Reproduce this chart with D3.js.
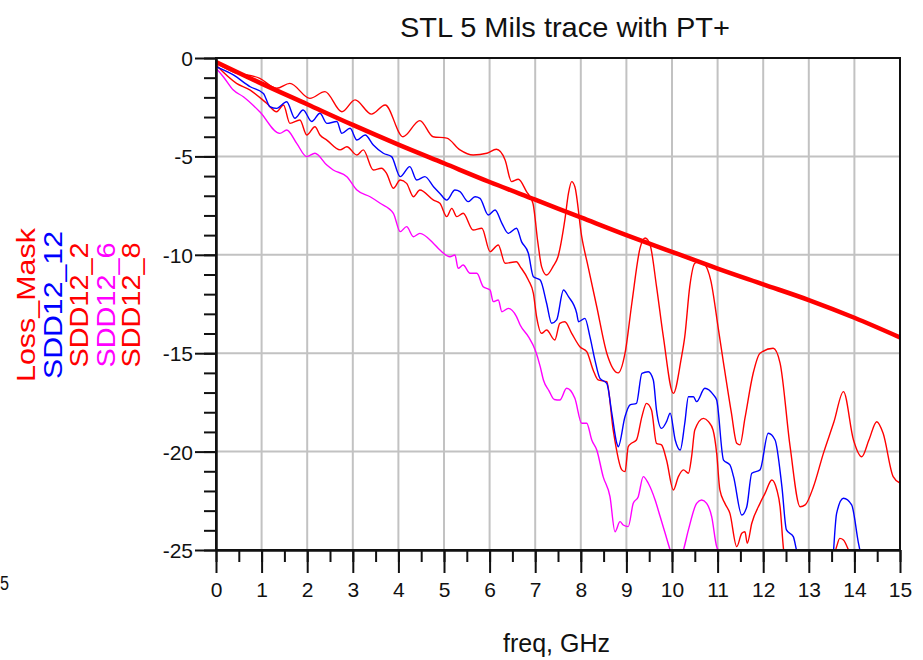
<!DOCTYPE html>
<html><head><meta charset="utf-8">
<script src="https://cdn.jsdelivr.net/npm/d3@7"></script>
<style>
html,body{margin:0;padding:0;background:#fff;}
svg{display:block;font-family:"Liberation Sans",Arial,sans-serif;}
</style></head>
<body>
<svg id="chart" width="923" height="660"></svg>
<script>
// ---------- DATA ----------
const titleText = "STL 5 Mils trace with PT+";
const xLabelText = "freq, GHz";
const xTicks = [0,1,2,3,4,5,6,7,8,9,10,11,12,13,14,15];
const yTicks = [0,-5,-10,-15,-20,-25];

const legendNames = ["Loss_Mask","SDD12_12","SDD12_2","SDD12_6","SDD12_8"];
const legendColors = ["#ff0000","#0000ff","#ff0000","#ff00ff","#ff0000"];

const maskFreq = [0,1,2,3,4,5,6,7,8,9,10,11,12,13,14,15];
const lossMask = [-0.2,-1.3,-2.35,-3.4,-4.4,-5.35,-6.3,-7.2,-8.1,-9.0,-9.85,-10.7,-11.5,-12.3,-13.2,-14.2];

const freq2 = [0,0.37,0.96,1.33,1.62,2.06,2.39,2.76,3.05,3.41,3.71,4.1,4.47,4.76,5.06,5.35,5.64,5.94,6.15,6.34,6.48,6.63,6.81,6.95,7.06,7.14,7.25,7.39,7.5,7.65,7.73,7.8,7.87,8.02,8.16,8.35,8.57,8.82,8.97,9.12,9.3,9.41,9.52,9.66,9.81,10.03,10.2,10.28,10.39,10.5,10.6,10.72,10.85,11.02,11.13,11.3,11.42,11.49,11.6,11.78,11.93,12.22,12.37,12.59,12.81,12.92,13.1,13.32,13.55,13.76,13.98,14.16,14.32,14.49,14.63,14.85,15];
const sdd12_2 = [-0.25,-0.7,-1.03,-1.54,-1.29,-2.05,-1.71,-2.73,-2.13,-2.85,-2.39,-4.0,-3.18,-4.0,-4.07,-4.67,-4.93,-4.84,-4.64,-5.18,-6.28,-6.16,-6.79,-7.38,-9.41,-10.6,-11.03,-10.6,-10.1,-8.23,-6.87,-6.28,-6.54,-9.08,-10.6,-12.64,-15.0,-16.0,-15.0,-12.45,-9.65,-9.15,-9.5,-11.6,-14.16,-17.04,-15.3,-14.16,-11.6,-10.43,-10.35,-10.5,-11.3,-13.82,-15.5,-18.0,-19.58,-19.66,-18.3,-16.02,-15.0,-14.75,-15.5,-19.75,-22.8,-22.71,-21.8,-20.09,-18.5,-16.95,-19.41,-20.26,-19.4,-18.48,-19.07,-21.27,-21.6];

const freq8 = [0,0.45,0.75,1.11,1.33,1.48,1.62,1.84,1.99,2.17,2.28,2.43,2.72,2.87,3.09,3.23,3.45,3.63,3.74,3.89,4.04,4.18,4.33,4.47,4.77,4.91,5.06,5.17,5.28,5.42,5.64,5.83,6.01,6.19,6.34,6.59,6.67,6.85,6.96,7.03,7.14,7.25,7.43,7.54,7.65,7.8,7.98,8.13,8.27,8.38,8.57,8.71,8.9,8.97,9.04,9.11,9.22,9.34,9.44,9.55,9.66,9.77,9.88,10.03,10.14,10.25,10.36,10.43,10.5,10.69,10.8,10.9,10.98,11.05,11.16,11.27,11.42,11.53,11.6,11.65,11.75,11.93,12.04,12.19,12.3,12.37,12.44,12.6,13.0,13.45,13.61,13.68,13.76,13.87,14.1];
const sdd12_8 = [-0.36,-1.29,-1.63,-2.3,-2.73,-2.39,-3.32,-3.15,-3.91,-3.49,-3.91,-4.17,-4.67,-4.51,-4.93,-4.67,-5.69,-5.6,-5.86,-6.62,-6.2,-6.37,-7.05,-6.71,-7.22,-7.38,-8.06,-7.64,-8.06,-7.89,-8.74,-8.65,-9.84,-9.5,-10.43,-10.35,-10.6,-11.28,-11.96,-13.14,-13.99,-13.82,-14.33,-13.48,-13.4,-13.99,-14.67,-14.92,-15.85,-16.36,-16.45,-18.9,-20.93,-21.02,-19.75,-19.58,-19.41,-18.22,-17.55,-17.89,-19.58,-19.66,-20.43,-21.95,-21.27,-20.93,-21.1,-20.26,-18.9,-18.31,-18.48,-18.9,-20.09,-21.95,-22.63,-23.14,-24.83,-24.15,-24.07,-24.66,-23.64,-22.63,-22.12,-21.44,-21.95,-22.8,-24.83,-27,-28,-26.5,-24.83,-24.41,-24.49,-25,-26.5];

const freq12 = [0,0.38,0.75,1.04,1.18,1.33,1.55,1.73,1.91,2.1,2.28,2.43,2.65,2.76,2.94,3.09,3.27,3.45,3.67,3.85,4.04,4.25,4.4,4.58,4.77,4.91,5.06,5.24,5.35,5.53,5.68,5.79,5.97,6.12,6.27,6.41,6.59,6.7,6.85,6.96,7.11,7.25,7.36,7.47,7.62,7.73,7.91,7.95,8.09,8.2,8.31,8.42,8.57,8.68,8.79,8.82,8.97,9.08,9.22,9.34,9.48,9.59,9.66,9.77,9.88,9.96,10.07,10.18,10.28,10.36,10.47,10.54,10.72,10.91,10.98,11.13,11.27,11.35,11.53,11.64,11.75,11.93,12.11,12.26,12.41,12.51,12.66,12.73,12.9,13.2,13.5,13.61,13.76,13.94,14.09,14.12,14.3];
const sdd12_12 = [-0.44,-0.86,-1.46,-1.8,-2.47,-2.56,-2.22,-3.06,-2.64,-3.23,-2.81,-3.32,-3.23,-3.83,-3.57,-4.17,-3.91,-4.42,-4.84,-5.01,-6.03,-5.52,-6.2,-6.03,-6.54,-6.88,-7.22,-6.71,-6.79,-7.3,-7.05,-7.13,-7.98,-7.72,-8.4,-8.91,-8.65,-9.33,-9.92,-11.11,-11.28,-12.46,-13.48,-13.31,-11.79,-12.13,-12.97,-13.4,-13.23,-14.16,-15.35,-16.28,-16.53,-18.05,-19.58,-19.75,-18.22,-17.63,-17.55,-16.02,-15.94,-16.36,-17.89,-18.82,-18.48,-18.05,-19.41,-19.92,-18.56,-17.21,-17.21,-17.46,-16.78,-17.12,-17.38,-20.43,-20.68,-21.27,-23.22,-22.8,-21.1,-20.93,-19.07,-19.41,-21.78,-23.98,-24.32,-25,-26.5,-27,-26,-23.14,-22.37,-22.71,-24.66,-25,-27];

const freq6 = [0,0.16,0.38,0.6,0.96,1.4,1.55,1.77,1.99,2.17,2.43,2.57,2.87,3.09,3.38,3.6,3.89,4.04,4.18,4.33,4.47,4.77,4.91,5.13,5.24,5.31,5.42,5.57,5.72,5.86,6.01,6.08,6.19,6.27,6.41,6.59,6.67,6.85,7.0,7.11,7.18,7.3,7.42,7.54,7.69,7.87,8.02,8.13,8.24,8.35,8.49,8.64,8.75,8.86,8.93,9.04,9.15,9.26,9.37,9.48,9.63,9.74,9.85,9.96,10.1,10.25,10.36,10.54,10.65,10.76,10.87,10.98,11.01,11.3];
const sdd12_6 = [-0.52,-0.95,-1.63,-1.97,-2.73,-3.83,-3.66,-4.34,-5.01,-4.84,-5.44,-5.69,-6.03,-6.71,-7.05,-7.38,-7.89,-8.82,-8.57,-9.08,-8.91,-9.42,-9.76,-10.1,-10.01,-10.69,-10.52,-10.94,-10.94,-11.62,-11.79,-12.38,-12.3,-12.89,-12.72,-13.14,-13.57,-14.16,-14.84,-15.68,-16.36,-16.9,-17.35,-17.38,-16.78,-17.29,-18.56,-18.56,-19.41,-19.92,-21.27,-22.29,-24.07,-23.56,-23.73,-23.81,-22.63,-22.29,-21.27,-21.61,-22.46,-23.3,-24.15,-25,-25.8,-25,-23.98,-22.63,-22.46,-22.63,-23.3,-24.83,-25,-27];

// ---------- DRAW ----------
const svg = d3.select("#chart");
const x = d3.scaleLinear().domain([0,15]).range([216,900]);
const y = d3.scaleLinear().domain([0,-25]).range([58,550]);

// grid
const grid = svg.append("g").attr("stroke","#c2c2c2").attr("stroke-width",2);
grid.selectAll("line.v").data(xTicks.slice(1,-1)).join("line")
  .attr("x1",d=>x(d)).attr("x2",d=>x(d)).attr("y1",y(0)).attr("y2",y(-25));
grid.selectAll("line.h").data(yTicks.slice(1,-1)).join("line")
  .attr("x1",x(0)).attr("x2",x(15)).attr("y1",d=>y(d)).attr("y2",d=>y(d));

// clip
svg.append("clipPath").attr("id","plot").append("rect")
  .attr("x",x(0)).attr("y",y(0)).attr("width",x(15)-x(0)).attr("height",y(-25)-y(0));

const plot = svg.append("g").attr("clip-path","url(#plot)");
const line = d3.line().x(d=>x(d[0])).y(d=>y(d[1])).curve(d3.curveMonotoneX);
const zip = (f,v)=>f.map((d,i)=>[d,v[i]]);

const series = [
  {f:freq6, v:sdd12_6, c:"#ff00ff", w:1.4},
  {f:freq8, v:sdd12_8, c:"#ff0000", w:1.4},
  {f:freq12, v:sdd12_12, c:"#0000ff", w:1.4},
  {f:freq2, v:sdd12_2, c:"#ff0000", w:1.4},
  {f:maskFreq, v:lossMask, c:"#ff0000", w:4.5}
];
series.forEach(s=>{
  plot.append("path").attr("d",line(zip(s.f,s.v)))
    .attr("fill","none").attr("stroke",s.c).attr("stroke-width",s.w)
    .attr("stroke-linejoin","round");
});

// frame
svg.append("rect").attr("x",x(0)).attr("y",y(0)).attr("width",x(15)-x(0)).attr("height",y(-25)-y(0))
  .attr("fill","none").attr("stroke","#111").attr("stroke-width",2);

// axes
const fontTick = 21;
const yMinor = d3.axisLeft(y).tickValues(d3.range(0,-26,-1)).tickSize(12).tickFormat("").tickSizeOuter(0);
const yMajor = d3.axisLeft(y).tickValues(yTicks).tickSize(21).tickSizeOuter(0).tickFormat(d=>d);
const gy1 = svg.append("g").attr("transform",`translate(${x(0)},0)`).call(yMinor);
const gy2 = svg.append("g").attr("transform",`translate(${x(0)},0)`).call(yMajor);
[gy1,gy2].forEach(g=>{g.select(".domain").attr("stroke","#111").attr("stroke-width",2);
  g.selectAll(".tick line").attr("stroke","#111").attr("stroke-width",2);});
gy2.selectAll(".tick text").attr("x",-23).attr("dy","0.36em")
  .attr("font-size",fontTick).attr("font-family","Liberation Sans, Arial, sans-serif").attr("fill","#111");

const xMinor = d3.axisBottom(x).tickValues(d3.range(0,15.01,0.5)).tickSize(12).tickFormat("").tickSizeOuter(0);
const xMajor = d3.axisBottom(x).tickValues(xTicks).tickSize(23).tickSizeOuter(0).tickFormat(d=>d);
const gx1 = svg.append("g").attr("transform",`translate(0,${y(-25)})`).call(xMinor);
const gx2 = svg.append("g").attr("transform",`translate(0,${y(-25)})`).call(xMajor);
[gx1,gx2].forEach(g=>{g.select(".domain").attr("stroke","#111").attr("stroke-width",2);
  g.selectAll(".tick line").attr("stroke","#111").attr("stroke-width",2);});
gx2.selectAll(".tick text").attr("y",47).attr("dy",0)
  .attr("font-size",fontTick).attr("font-family","Liberation Sans, Arial, sans-serif").attr("fill","#111");

// title
svg.append("text").attr("x",400).attr("y",37).attr("font-size",28.5)
  .attr("textLength",330).attr("lengthAdjust","spacingAndGlyphs")
  .attr("fill","#111").text(titleText);
// x label
svg.append("text").attr("x",503).attr("y",652).attr("font-size",25)
  .attr("textLength",107).attr("lengthAdjust","spacingAndGlyphs")
  .attr("fill","#111").text(xLabelText);

// legend (rotated)
const legendX = [35,62,88,115,140];
const legendLen = [154,148,125,125,125];
legendNames.forEach((n,i)=>{
  svg.append("text").attr("transform",`translate(${legendX[i]},305) rotate(-90)`)
    .attr("text-anchor","middle").attr("font-size",25)
    .attr("textLength",legendLen[i]).attr("lengthAdjust","spacingAndGlyphs")
    .attr("fill",legendColors[i]).text(n);
});

// small fragment at lower-left edge
svg.append("text").attr("x",0).attr("y",590).attr("text-anchor","start").attr("font-size",20)
  .attr("textLength",9).attr("lengthAdjust","spacingAndGlyphs")
  .attr("fill","#111").text("5");
</script>
</body></html>
